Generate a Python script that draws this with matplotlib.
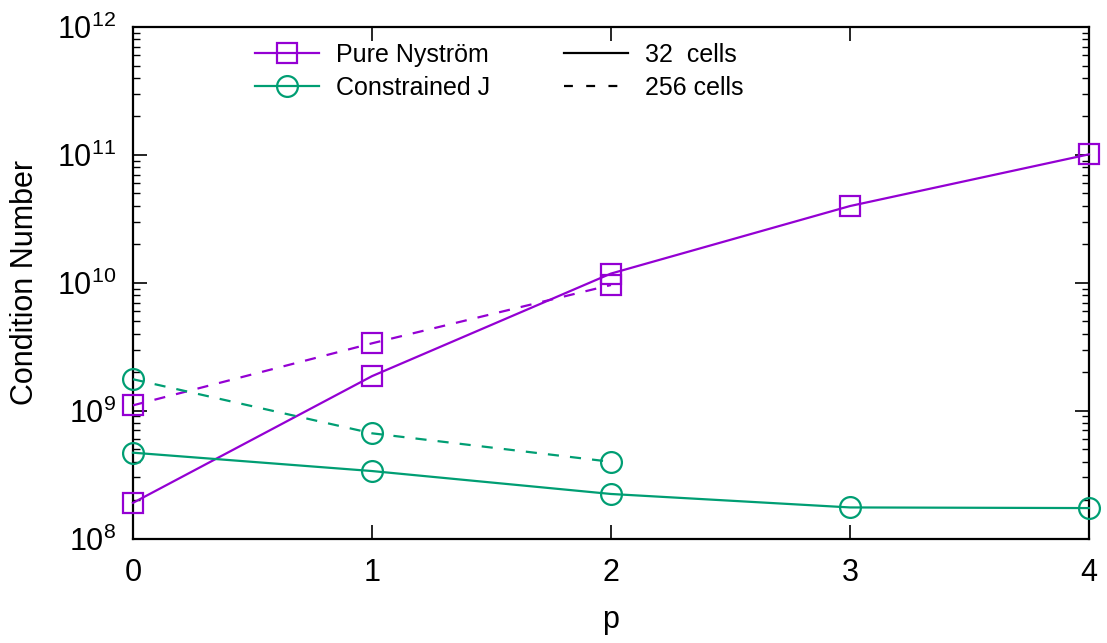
import matplotlib
matplotlib.use('Agg')
import matplotlib.pyplot as plt
from matplotlib.lines import Line2D
from matplotlib.ticker import LogLocator, LogFormatterMathtext, NullFormatter

plt.rcParams['font.family'] = ['Liberation Sans', 'DejaVu Sans']
plt.rcParams['mathtext.fontset'] = 'custom'
plt.rcParams['mathtext.rm'] = 'Liberation Sans'

# ===数据
p = [0, 1, 2, 3, 4]
p_256 = [0, 1, 2]
nystrom_32 = [1.9e8, 1.86e9, 1.18e10, 3.98e10, 1.01e11]
nystrom_256 = [1.1e9, 3.36e9, 9.6e9]
constrained_32 = [4.69e8, 3.37e8, 2.23e8, 1.75e8, 1.73e8]
constrained_256 = [1.76e9, 6.65e8, 3.98e8]

purple = '#9400D3'
green = '#009E73'

fig = plt.figure(figsize=(11.07, 6.43), dpi=100)
ax = fig.add_axes([0.1201, 0.1625, 0.8636, 0.7955])

mk = dict(markersize=15, markerfacecolor='none', markeredgewidth=1.6, lw=1.6)
ax.plot(p, nystrom_32, color=purple, marker='s', clip_on=False, zorder=3, **mk)
ax.plot(p_256, nystrom_256, color=purple, marker='s', ls=(0, (5, 5)), clip_on=False, zorder=3, **mk)
ax.plot(p, constrained_32, color=green, marker='o', clip_on=False, zorder=3, **mk)
ax.plot(p_256, constrained_256, color=green, marker='o', ls=(0, (5, 5)), clip_on=False, zorder=3, **mk)

ax.set_yscale('log')
ax.set_ylim(1e8, 1e12)
ax.set_xlim(0, 4)
ax.set_xticks(p)
ax.yaxis.set_major_locator(LogLocator(base=10, numticks=10))
ax.yaxis.set_major_formatter(LogFormatterMathtext())
ax.yaxis.set_minor_locator(LogLocator(base=10, subs=range(2, 10), numticks=20))
ax.yaxis.set_minor_formatter(NullFormatter())

ax.tick_params(which='both', direction='in', top=True, right=True, labelsize=22)
ax.tick_params(which='major', length=10, width=1.2)
ax.tick_params(which='minor', length=5, width=1.0)
ax.tick_params(axis='x', pad=14)
ax.tick_params(axis='y', pad=12)
for s in ax.spines.values():
    s.set_linewidth(1.6)

ax.set_xlabel('p', fontsize=22, labelpad=12)
ax.set_ylabel('Condition Number', fontsize=22, labelpad=12)

handles = [
    Line2D([], [], color=purple, marker='s', **mk),
    Line2D([], [], color=green, marker='o', **mk),
    Line2D([], [], color='black', lw=1.6),
    Line2D([], [], color='black', lw=1.6, ls=(0, (4, 6))),
]
labels = ['Pure Nyström', 'Constrained J', '32  cells', '256 cells']
ax.legend(handles, labels, ncol=2, frameon=False, fontsize=18,
          loc='upper left', bbox_to_anchor=(0.1276, 0.9695),
          borderpad=0, borderaxespad=0,
          handlelength=2.56, handletextpad=0.68, columnspacing=2.96,
          labelspacing=0.36)

fig.savefig('out.png', dpi=100)
